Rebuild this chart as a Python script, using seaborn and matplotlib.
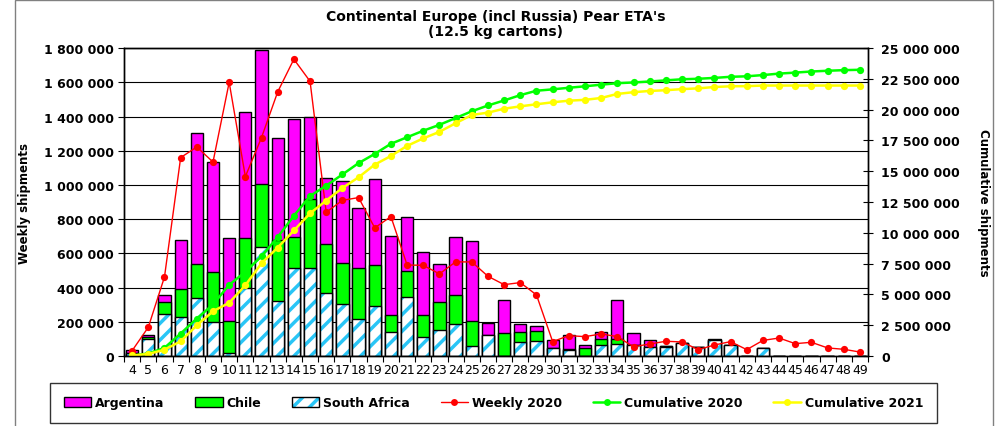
import numpy as np
import pandas as pd
import matplotlib
matplotlib.use('Agg')
import matplotlib.pyplot as plt
import seaborn as sns
from matplotlib.patches import Patch, Rectangle
from matplotlib.lines import Line2D
from matplotlib.ticker import FuncFormatter

# ETA week numbers
weeks = list(range(4, 50))

# weekly shipments 2021 by origin (cartons)
south_africa = [15000, 100000, 245000, 228000, 338000, 200000, 15000, 400000, 635000, 322000,
                513000, 515000, 368000, 305000, 215000, 290000, 140000, 343000, 108000, 150000,
                187000, 60000, 125000, 0, 80000, 86000, 48000, 35000, 0, 62000,
                72000, 62000, 50000, 55000, 76000, 50000, 95000, 64000, 0, 47000,
                0, 0, 0, 0, 0, 0]
chile = [5000, 8000, 70000, 165000, 198000, 292000, 190000, 290000, 370000, 355000,
         180000, 400000, 285000, 238000, 297000, 240000, 97000, 152000, 134000, 165000,
         168000, 145000, 0, 133000, 58000, 58000, 0, 5000, 45000, 35000,
         25000, 3000, 0, 3000, 0, 0, 0, 0, 2000, 0,
         0, 0, 0, 0, 0, 0]
argentina = [15000, 17000, 40000, 285000, 765000, 645000, 487000, 737000, 785000, 598000,
             692000, 480000, 387000, 478000, 352000, 505000, 467000, 320000, 364000, 222000,
             340000, 468000, 65000, 193000, 47000, 30000, 47000, 85000, 20000, 43000,
             229000, 68000, 44000, 3000, 0, 0, 2000, 0, 0, 0,
             0, 0, 0, 0, 0, 0]

# weekly 2020 (left axis)
weekly_2020 = [31000, 168000, 462000, 1160000, 1222000, 1134000, 1600000, 1049000, 1277000, 1544000,
               1735000, 1606000, 840000, 910000, 926000, 749000, 815000, 532000, 530000, 480000,
               550000, 550000, 466000, 417000, 429000, 357000, 84000, 119000, 113000, 129000,
               113000, 54000, 70000, 86000, 82000, 37000, 64000, 84000, 37000, 91000,
               105000, 72000, 80000, 47000, 39000, 23000]

# cumulative (right axis)
cumulative_2020 = [30000, 200000, 660000, 1820000, 3040000, 4180000, 5780000, 6830000, 8100000, 9650000,
                   11380000, 12990000, 13830000, 14740000, 15660000, 16410000, 17230000, 17760000, 18290000, 18770000,
                   19320000, 19870000, 20340000, 20750000, 21180000, 21540000, 21650000, 21780000, 21900000, 22030000,
                   22150000, 22210000, 22290000, 22380000, 22470000, 22510000, 22580000, 22670000, 22710000, 22810000,
                   22930000, 23010000, 23100000, 23160000, 23210000, 23240000]
cumulative_2021 = [40000, 160000, 510000, 1190000, 2490000, 3630000, 4320000, 5740000, 7530000, 8800000,
                   10190000, 11580000, 12620000, 13640000, 14510000, 15540000, 16240000, 17060000, 17670000, 18200000,
                   18900000, 19570000, 19760000, 20080000, 20270000, 20440000, 20600000, 20730000, 20800000, 20950000,
                   21280000, 21420000, 21520000, 21580000, 21670000, 21730000, 21840000, 21900000, 21910000, 21960000,
                   21960000, 21960000, 21960000, 21960000, 21960000, 21960000]

MAGENTA = '#FF00FF'
LIME = '#00FF00'
SKY = '#29C5F6'

sns.set_theme(style='white')
plt.rcParams['font.family'] = ['DejaVu Sans']
plt.rcParams.update({'text.color': 'black', 'axes.labelcolor': 'black',
                     'xtick.color': 'black', 'ytick.color': 'black',
                     'axes.edgecolor': 'black', 'hatch.linewidth': 2.5})

df = pd.DataFrame({'week': [str(w) for w in weeks], 'sa': south_africa,
                   'chile': chile, 'arg': argentina})
df['chile_top'] = df['sa'] + df['chile']
df['arg_top'] = df['chile_top'] + df['arg']

fig = plt.figure(figsize=(10.02, 4.27), dpi=100)
ax = fig.add_axes([0.1238, 0.164, 0.7425, 0.721])

bw = 0.76
sns.barplot(data=df, x='week', y='arg_top', color=MAGENTA, saturation=1, width=bw,
            edgecolor='black', linewidth=1, ax=ax, zorder=2)
sns.barplot(data=df, x='week', y='chile_top', color=LIME, saturation=1, width=bw,
            edgecolor='black', linewidth=1, ax=ax, zorder=2)
sns.barplot(data=df, x='week', y='sa', color='white', saturation=1, width=bw,
            hatch='//', edgecolor=SKY, linewidth=0, ax=ax, zorder=2)
xpos = np.arange(len(weeks))
ax.bar(xpos, df['sa'], width=bw, facecolor='none', edgecolor='black', linewidth=1, zorder=2)

ax.plot(xpos, weekly_2020, color='red', lw=1, marker='o', markersize=5.2,
        markeredgewidth=0, zorder=3)

ax.set_xlim(-0.5, len(weeks) - 0.5)
ax.set_ylim(0, 1800000)
ax.set_yticks(np.arange(0, 1800001, 200000))
ax.yaxis.set_major_formatter(FuncFormatter(lambda v, p: f'{int(v):,}'.replace(',', ' ')))
ax.yaxis.grid(True, color='black', lw=0.8)
ax.set_axisbelow(True)
ax.set_xticks(xpos)
ax.set_xticklabels([str(w) for w in weeks], fontsize=9)
ax.set_xticks(np.arange(-0.5, len(weeks), 1), minor=True)
ax.tick_params(axis='x', which='major', length=0, pad=5)
ax.tick_params(axis='x', which='minor', bottom=True, length=4, direction='out', width=0.8)
ax.tick_params(axis='y', left=True, length=4, direction='out', width=0.8, labelsize=9)
for t in ax.get_yticklabels():
    t.set_fontweight('bold')
ax.set_xlabel('')
ax.set_ylabel('Weekly shipments', fontsize=8.5, fontweight='bold')
ax.yaxis.set_label_coords(-0.125, 0.5)
for s in ax.spines.values():
    s.set_color('black')
    s.set_linewidth(1)

ax2 = ax.twinx()
ax2.plot(xpos, cumulative_2020, color=LIME, lw=1.8, marker='o', markersize=5.2, markeredgewidth=0)
ax2.plot(xpos, cumulative_2021, color='#FFFF00', lw=1.8, marker='o', markersize=5.2, markeredgewidth=0)
ax2.set_ylim(0, 25000000)
ax2.set_yticks(np.arange(0, 25000001, 2500000))
ax2.yaxis.set_major_formatter(FuncFormatter(lambda v, p: f'{int(v):,}'.replace(',', ' ')))
ax2.tick_params(axis='y', right=True, length=7, direction='inout', width=0.8, labelsize=9, pad=6)
for t in ax2.get_yticklabels():
    t.set_fontweight('bold')
ax2.set_ylabel('Cumulative shipments', fontsize=8.5, fontweight='bold', rotation=-90, va='center')
ax2.yaxis.set_label_coords(1.155, 0.5)
ax2.grid(False)
for s in ax2.spines.values():
    s.set_color('black')
    s.set_linewidth(1)

fig.text(0.495, 0.942, "Continental Europe (incl Russia) Pear ETA's\n(12.5 kg cartons)",
         ha='center', va='center', fontsize=10, fontweight='bold', linespacing=1.05)

handles = [Patch(facecolor=MAGENTA, edgecolor='black'),
           Patch(facecolor=LIME, edgecolor='black'),
           (Patch(facecolor='white', edgecolor=SKY, hatch='//', lw=0),
            Patch(facecolor='none', edgecolor='black')),
           Line2D([], [], color='red', lw=1, marker='o', markersize=5, markeredgewidth=0),
           Line2D([], [], color=LIME, lw=1.8, marker='o', markersize=5, markeredgewidth=0),
           Line2D([], [], color='#FFFF00', lw=1.8, marker='o', markersize=5, markeredgewidth=0)]
labels = ['Argentina', 'Chile', 'South Africa', 'Weekly 2020', 'Cumulative 2020', 'Cumulative 2021']
leg = fig.legend(handles, labels, loc='center', bbox_to_anchor=(0.05, 0.005, 0.885, 0.098),
                 mode='expand', ncol=6, frameon=True, fancybox=False, borderpad=1.1,
                 handlelength=2.2, handleheight=0.8, handletextpad=0.3, borderaxespad=0,
                 prop={'weight': 'bold', 'size': 9})
leg.get_frame().set_edgecolor('black')
leg.get_frame().set_linewidth(1)

fig.add_artist(Rectangle((0.015, -0.01), 0.976, 1.008, transform=fig.transFigure,
                         fill=False, edgecolor='#808080', lw=1))

plt.savefig('out.png', dpi=100)
